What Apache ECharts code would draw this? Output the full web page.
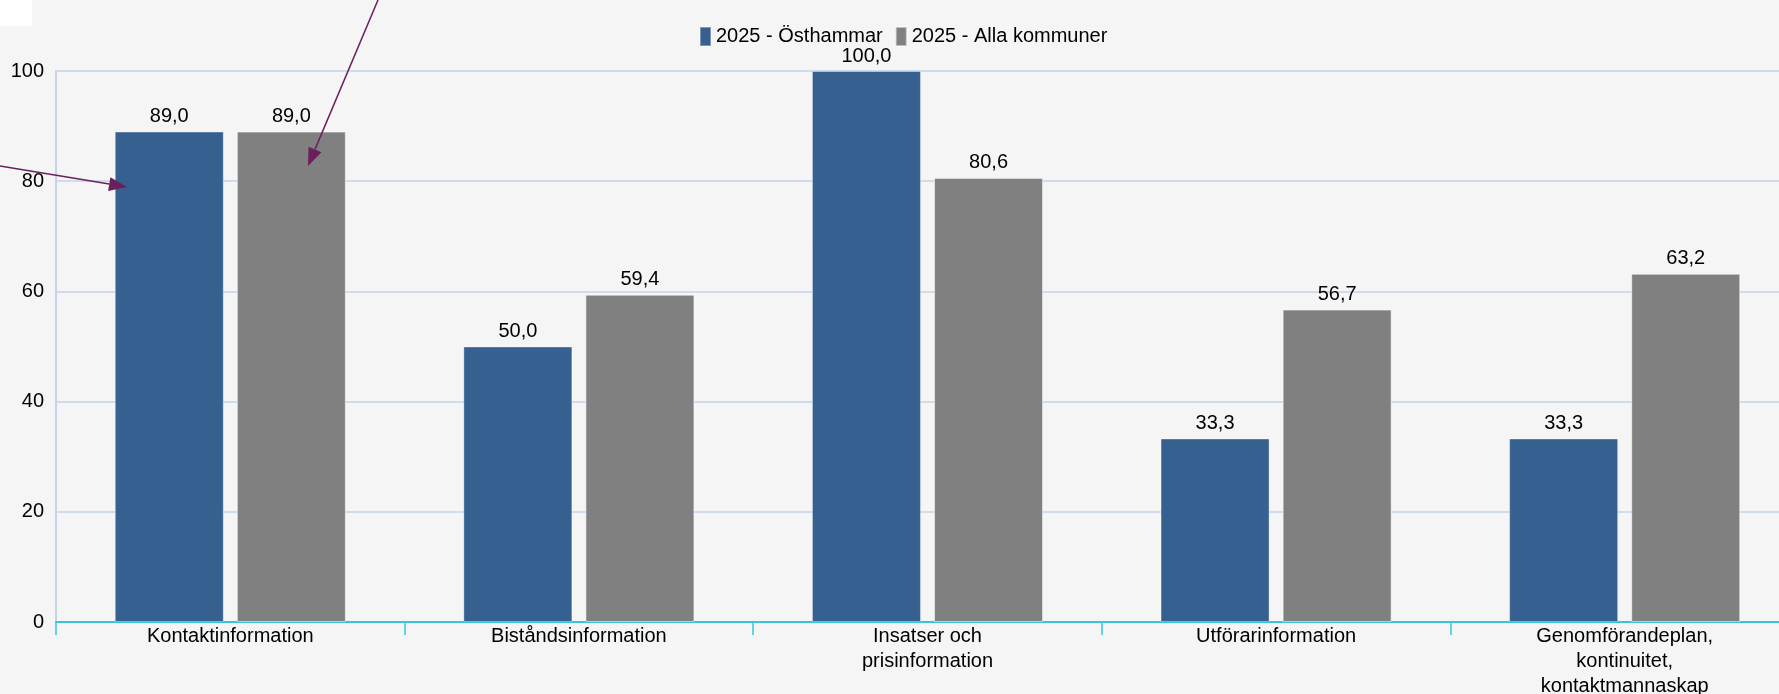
<!DOCTYPE html>
<html>
<head>
<meta charset="utf-8">
<script src="https://cdn.jsdelivr.net/npm/echarts@6/dist/echarts.min.js"></script>
<style>
html,body{margin:0;padding:0;background:#f5f5f5;}
#chart{width:1779px;height:694px;}
</style>
</head>
<body>
<div id="chart"></div>
<script>
var categories = ['Kontaktinformation', 'Biståndsinformation', 'Insatser och\nprisinformation', 'Utförarinformation', 'Genomförandeplan,\nkontinuitet,\nkontaktmannaskap'];
var seriesNames = ['2025 - Östhammar', '2025 - Alla kommuner'];
var osthammar = [89.0, 50.0, 100.0, 33.3, 33.3];
var allaKommuner = [89.0, 59.4, 80.6, 56.7, 63.2];
var yTicks = [0, 20, 40, 60, 80, 100];

var chart = echarts.init(document.getElementById('chart'));
var font = 'Liberation Sans, Arial, sans-serif';
var fmt = function (p) { return p.value.toFixed(1).replace('.', ','); };
var arrowColor = '#6b1f5c';

// pilar (annotering) ritas som grafik
function arrow(x1, y1, x2, y2) {
	var dx = x2 - x1, dy = y2 - y1, len = Math.sqrt(dx * dx + dy * dy);
	var ux = dx / len, uy = dy / len, hl = 18, hw = 7;
	var bx = x2 - ux * hl, by = y2 - uy * hl;
	return [
		{ type: 'line', shape: { x1: x1, y1: y1, x2: bx, y2: by }, style: { stroke: arrowColor, lineWidth: 1.5 }, z: 100 },
		{ type: 'polygon', shape: { points: [[x2, y2], [bx - uy * hw, by + ux * hw], [bx + uy * hw, by - ux * hw]] }, style: { fill: arrowColor }, z: 100 }
	];
}

var option = {
	backgroundColor: '#f5f5f5',
	animation: false,
	textStyle: { fontFamily: font },
	legend: {
		left: 694,
		top: 21,
		itemWidth: 11,
		itemHeight: 19,
		itemGap: 12,
		icon: 'rect',
		textStyle: { fontSize: 20, color: '#000', fontFamily: font },
		data: seriesNames
	},
	grid: {
		left: 56,
		width: 1743,
		top: 71,
		bottom: 72,
		containLabel: false,
		outerBoundsMode: 'none'
	},
	xAxis: {
		type: 'category',
		data: categories,
		axisLine: { lineStyle: { color: '#36c6d6', width: 2 } },
		axisTick: { show: true, length: 13, lineStyle: { color: '#36c6d6', width: 1.5 } },
		axisLabel: { fontSize: 20, color: '#000', fontFamily: font, lineHeight: 25, margin: 2, interval: 0 }
	},
	yAxis: {
		type: 'value',
		min: yTicks[0],
		max: yTicks[yTicks.length - 1],
		interval: 20,
		axisLine: { show: true, lineStyle: { color: '#c3d3e8', width: 2 } },
		axisTick: { show: false },
		splitLine: { lineStyle: { color: '#c3d3e8', width: 1.5 } },
		axisLabel: { fontSize: 20, color: '#000', fontFamily: font, margin: 12 }
	},
	series: [
		{
			name: seriesNames[0],
			type: 'bar',
			data: osthammar,
			barWidth: 109,
			barGap: '12%',
			itemStyle: { color: '#36608f', borderColor: 'rgba(255,255,255,0.35)', borderWidth: 1 },
			label: { show: true, position: 'top', distance: 5, fontSize: 20, color: '#000', fontFamily: font, formatter: fmt }
		},
		{
			name: seriesNames[1],
			type: 'bar',
			data: allaKommuner,
			barWidth: 109,
			barGap: '12%',
			itemStyle: { color: '#808080', borderColor: 'rgba(255,255,255,0.5)', borderWidth: 1 },
			label: { show: true, position: 'top', distance: 5, fontSize: 20, color: '#000', fontFamily: font, formatter: fmt }
		}
	],
	graphic: [
		{ type: 'rect', left: 0, top: 0, shape: { width: 32, height: 26 }, style: { fill: '#ffffff' } }
	].concat(arrow(0, 166, 127, 187)).concat(arrow(378, 0, 308, 166))
};
chart.setOption(option);
</script>
</body>
</html>
